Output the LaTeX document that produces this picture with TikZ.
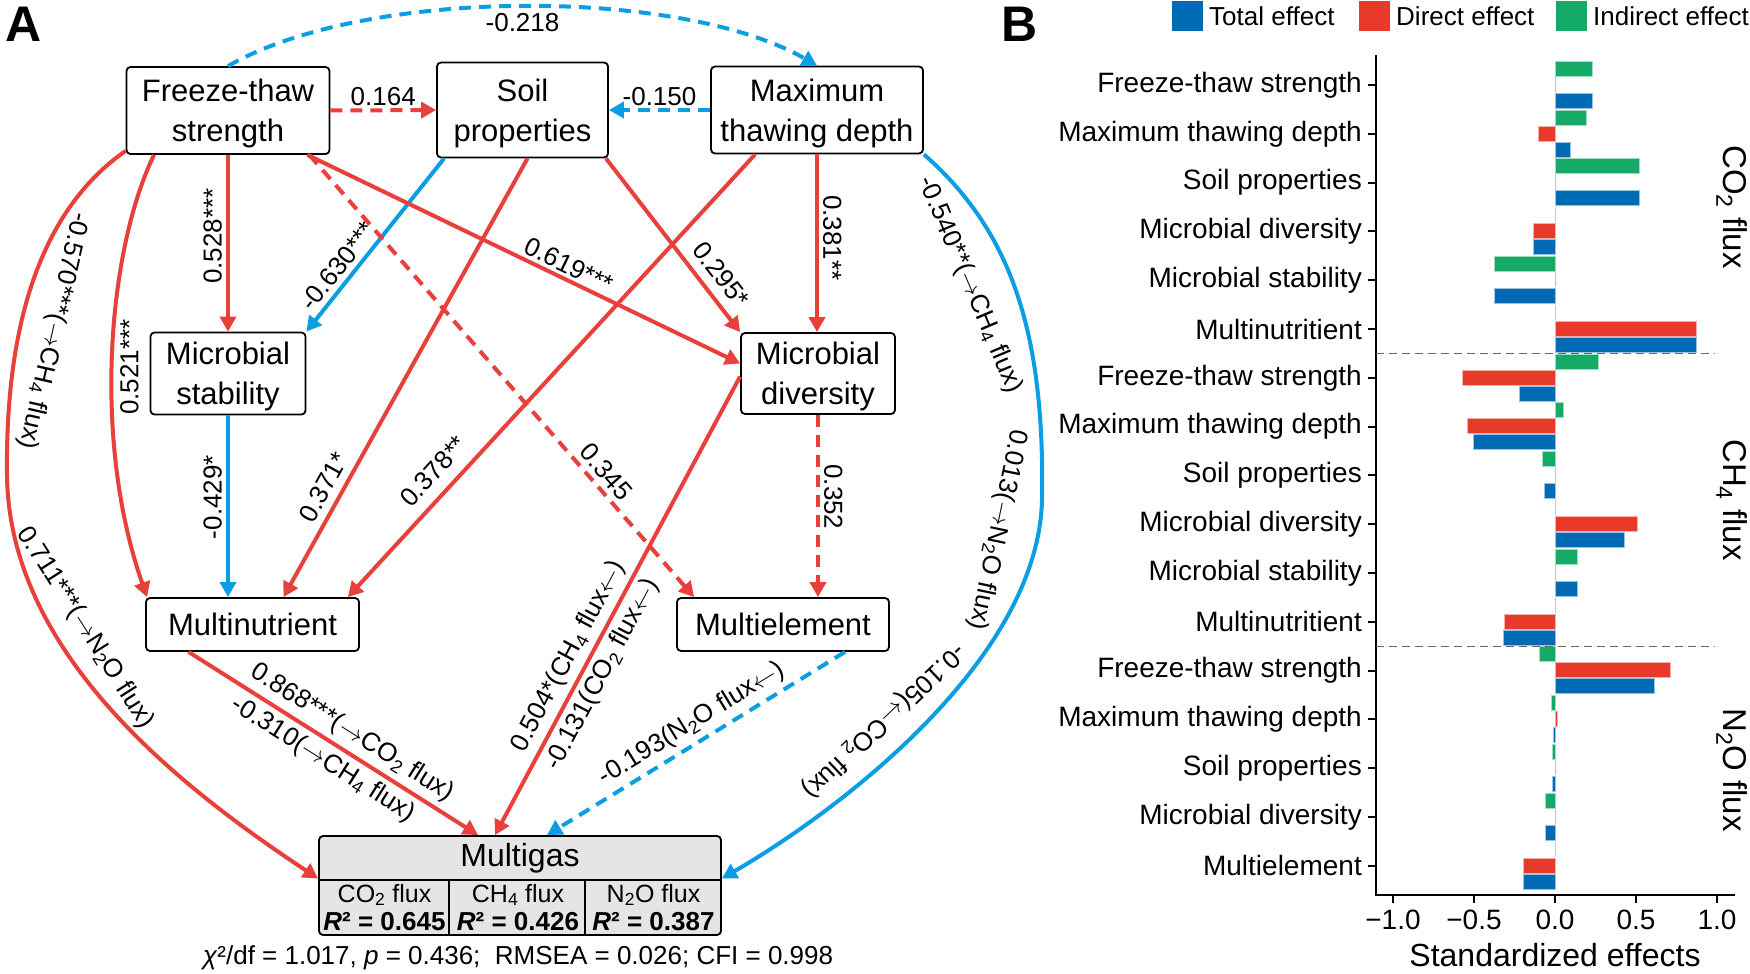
\documentclass[tikz,border=0pt]{standalone}
\usepackage{fontspec}
\setmainfont{Liberation Sans}
\usetikzlibrary{arrows.meta}

\definecolor{effred}{RGB}{232,64,58}
\definecolor{effblue}{RGB}{12,158,226}
\definecolor{totblue}{RGB}{0,106,180}
\definecolor{dirred}{RGB}{232,58,42}
\definecolor{indgreen}{RGB}{21,170,102}

\newcommand{\sbs}[1]{\textsubscript{#1}}
\newcommand{\toflux}{$\rightarrow$}
\newcommand{\fromflux}{$\leftarrow$}

\begin{document}
\begin{tikzpicture}[x=1pt, y=-1pt,
    var_style/.style={draw=black, line width=1.8pt, rounded corners=4pt, fill=white, align=center, inner sep=2pt, text depth=0pt, font=\fontsize{31}{40}\selectfont},
    edge_style/.style={line width=4pt, -{Triangle[length=15pt,width=16pt]}},
    pos_edge_style/.style={edge_style, draw=effred},
    neg_edge_style/.style={edge_style, draw=effblue},
    ns_edge_style/.style={dash pattern=on 12pt off 8pt},
    coef_style/.style={font=\fontsize{26}{28}\selectfont, inner sep=1pt},
    cat_style/.style={anchor=east, font=\fontsize{28}{30}\selectfont, inner sep=0pt},
    axis_style/.style={line width=2pt},
    bar_style/.style={line width=0.6pt}]
  \useasboundingbox (0,0) rectangle (1750,974);
  \fill[white] (0,0) rectangle (1750,974);

  % panel A: variables
  \node[font=\fontsize{50}{50}\selectfont\bfseries, inner sep=0pt] (panelA) at (24,24) {A};
  \node[var_style, minimum width=203pt, minimum height=87pt] (fts) at (228,110.5) {Freeze-thaw\\strength};
  \node[var_style, minimum width=171pt, minimum height=95pt] (soil) at (522.5,110) {Soil\\properties};
  \node[var_style, minimum width=212pt, minimum height=87pt] (mtd) at (817,110) {Maximum\\thawing depth};
  \node[var_style, minimum width=155pt, minimum height=82pt] (ms) at (228,373.5) {Microbial\\stability};
  \node[var_style, minimum width=154pt, minimum height=81pt] (md) at (818,373.5) {Microbial\\diversity};
  \node[var_style, minimum width=213pt, minimum height=53pt] (mn) at (252.5,624.5) {Multinutrient};
  \node[var_style, minimum width=212pt, minimum height=53pt] (me) at (783,624.5) {Multielement};
  \node[var_style, fill=black!10, minimum width=402pt, minimum height=99pt] (gas) at (520,885.5) {};
  \draw[line width=1.8pt] ([yshift=5.5pt]gas.west) -- ([yshift=5.5pt]gas.east);
  \draw[line width=1.8pt] ([xshift=131pt,yshift=5.5pt]gas.west) -- ([xshift=131pt]gas.south west);
  \draw[line width=1.8pt] ([xshift=267pt,yshift=5.5pt]gas.west) -- ([xshift=267pt]gas.south west);
  \node[font=\fontsize{32}{34}\selectfont] (gastitle) at (520,858) {Multigas};
  \node[font=\fontsize{25}{27}\selectfont] (co2) at (384.5,895) {CO\sbs{2} flux};
  \node[font=\fontsize{25}{27}\selectfont] (ch4) at (518,895) {CH\sbs{4} flux};
  \node[font=\fontsize{25}{27}\selectfont] (n2o) at (653.5,895) {N\sbs{2}O flux};
  \node[font=\fontsize{26}{28}\selectfont\bfseries] (r2co2) at (384.5,922) {\textit{R}² = 0.645};
  \node[font=\fontsize{26}{28}\selectfont\bfseries] (r2ch4) at (518,922) {\textit{R}² = 0.426};
  \node[font=\fontsize{26}{28}\selectfont\bfseries] (r2n2o) at (653.5,922) {\textit{R}² = 0.387};
  \node[font=\fontsize{26}{28}\selectfont] (fit) at (518,958) {\textit{χ}²/df = 1.017, \textit{p} = 0.436;\ \ RMSEA = 0.026; CFI = 0.998};

  % panel A: paths
  \draw[neg_edge_style, ns_edge_style] (fts.north) .. controls (365,-13) and (680,-13) .. (mtd.north)
    node[pos=0.5, below=4pt, coef_style] (l218) {-0.218};
  \draw[pos_edge_style, ns_edge_style] (fts.east) -- (soil.west)
    node[midway, above=1pt, coef_style] (l164) {0.164};
  \draw[neg_edge_style, ns_edge_style] (mtd.west) -- (soil.east)
    node[midway, above=1pt, coef_style] (l150) {-0.150};
  \draw[pos_edge_style] (fts.south) -- (fts.south |- ms.north)
    node[pos=0.46, rotate=90, above=3pt, coef_style] (l528) {0.528***};
  \draw[neg_edge_style] ([xshift=8pt]soil.south west) -- (ms.north east)
    node[pos=0.68, sloped, above=4pt, coef_style] (l630) {-0.630***};
  \draw[pos_edge_style] ([xshift=5pt]soil.south) -- ([xshift=31pt]mn.north)
    node[pos=0.77, sloped, above=6pt, coef_style] (l371) {0.371*};
  \draw[pos_edge_style] ([xshift=45pt]mtd.south west) -- ([xshift=-12pt]mn.north east)
    node[pos=0.75, sloped, above=10pt, coef_style] (l378) {0.378**};
  \draw[pos_edge_style] ([xshift=-23pt]fts.south east) -- ([yshift=10pt]md.west)
    node[pos=0.59, sloped, above=2pt, coef_style] (l619) {0.619***};
  \draw[pos_edge_style] ([xshift=-3pt]soil.south east) -- (md.north west)
    node[pos=0.74, sloped, above=8pt, coef_style] (l295) {0.295*};
  \draw[pos_edge_style] (mtd.south) -- (mtd.south |- md.north)
    node[pos=0.47, rotate=-90, above=3pt, coef_style] (l381) {0.381**};
  \draw[pos_edge_style, ns_edge_style] ([xshift=-21pt]fts.south east) -- ([xshift=18pt]me.north west)
    node[pos=0.74, sloped, above=4pt, coef_style] (l345) {0.345};
  \draw[pos_edge_style, ns_edge_style] (md.south) -- (md.south |- me.north)
    node[pos=0.45, rotate=-90, above=3pt, coef_style] (l352) {0.352};
  \draw[neg_edge_style] (ms.south) -- (ms.south |- mn.north)
    node[pos=0.45, rotate=90, above=3pt, coef_style] (l429) {-0.429*};
  \draw[pos_edge_style] ([xshift=-74pt]fts.south) .. controls (108,250) and (92,440) .. ([xshift=2pt]mn.north west)
    node[pos=0.53, rotate=90, below=5pt, coef_style] (l521) {0.521***};
  \draw[pos_edge_style] ([yshift=4pt]fts.south west) .. controls (48,205) and (5,310) .. (7,475)
    node[pos=0.65, sloped, allow upside down, above=18pt, coef_style] (l570) {-0.570***(\toflux CH\sbs{4} flux)}
    .. controls (9,650) and (172,782) .. ([yshift=7pt]gas.west)
    node[pos=0.35, sloped, above=14pt, coef_style] (l711) {0.711***(\toflux N\sbs{2}O flux)};
  \draw[neg_edge_style] (mtd.south east) .. controls (1010,230) and (1045,330) .. (1042,500)
    node[pos=0.43, sloped, allow upside down, below=26pt, coef_style] (l540) {-0.540**(\toflux CH\sbs{4} flux)}
    .. controls (1038,660) and (840,810) .. ([yshift=7pt]gas.east)
    node[pos=0.08, sloped, allow upside down, below=26pt, coef_style] (l013) {0.013(\toflux N\sbs{2}O flux)}
    node[pos=0.55, sloped, allow upside down, below=16pt, coef_style] (l105) {-0.105(\fromflux CO\sbs{2} flux)};
  \draw[pos_edge_style] ([xshift=-64pt]mn.south) -- ([xshift=-42pt]gas.north)
    node[pos=0.53, sloped, above=4pt, coef_style] (l868) {0.868***(\toflux CO\sbs{2} flux)}
    node[pos=0.50, sloped, below=4pt, coef_style] (l310) {-0.310(\toflux CH\sbs{4} flux)};
  \draw[pos_edge_style] ([yshift=-3pt]md.west) -- ([xshift=-25pt]gas.north)
    node[pos=0.63, sloped, above=4pt, coef_style] (l504) {0.504*(CH\sbs{4} flux\fromflux)}
    node[pos=0.63, sloped, below=4pt, coef_style] (l131) {-0.131(CO\sbs{2} flux\fromflux)};
  \draw[neg_edge_style, ns_edge_style] ([xshift=62pt]me.south) -- ([xshift=27pt]gas.north)
    node[pos=0.48, sloped, above=4pt, coef_style] (l193) {-0.193(N\sbs{2}O flux\fromflux)};

  % panel B: legend
  \node[font=\fontsize{50}{50}\selectfont\bfseries, inner sep=0pt] (panelB) at (1020,24) {B};
  \fill[totblue] (1172,1) rectangle (1203,31);
  \node[anchor=west, font=\fontsize{26}{28}\selectfont, inner sep=0pt] (legtot) at (1209,16) {Total effect};
  \fill[dirred] (1359,1) rectangle (1390,31);
  \node[anchor=west, font=\fontsize{26}{28}\selectfont, inner sep=0pt] (legdir) at (1396,16) {Direct effect};
  \fill[indgreen] (1556,1) rectangle (1587,31);
  \node[anchor=west, font=\fontsize{26}{28}\selectfont, inner sep=0pt] (legind) at (1593,16) {Indirect effect};

  % panel B: bars (indirect / direct / total)
  \foreach \g/\r/\b [count=\i from 0] in {0.232/0/0.232, 0.196/-0.106/0.094, 0.519/0/0.519,
      0/-0.132/-0.132, -0.375/0/-0.375, 0/0.871/0.871,
      0.267/-0.572/-0.22, 0.053/-0.543/-0.504, -0.079/0/-0.065,
      0/0.507/0.425, 0.138/0/0.138, 0/-0.311/-0.317,
      -0.097/0.713/0.613, -0.021/0.015/-0.009, -0.018/0/-0.018,
      -0.059/0/-0.059, 0/-0.196/-0.196} {
    \pgfmathsetmacro{\yy}{85+48.8*\i}
    \filldraw[bar_style, fill=indgreen, draw=indgreen!40] (1555,{\yy-24}) rectangle ({1555+162*\g},{\yy-9});
    \filldraw[bar_style, fill=dirred, draw=dirred!40] (1555,{\yy-8}) rectangle ({1555+162*\r},{\yy+7});
    \filldraw[bar_style, fill=totblue, draw=totblue!40] (1555,{\yy+8}) rectangle ({1555+162*\b},{\yy+23});
  }

  % panel B: axes
  \draw[axis_style] (1376,55) -- (1376,895) -- (1735,895);
  \foreach \lab [count=\i from 0] in {Freeze-thaw strength, Maximum thawing depth, Soil properties,
      Microbial diversity, Microbial stability, Multinutritient,
      Freeze-thaw strength, Maximum thawing depth, Soil properties,
      Microbial diversity, Microbial stability, Multinutritient,
      Freeze-thaw strength, Maximum thawing depth, Soil properties,
      Microbial diversity, Multielement} {
    \draw[axis_style] (1368,{85+48.8*\i}) -- (1376,{85+48.8*\i});
    \node[cat_style] (cat\i) at (1362,{85+48.8*\i}) {\lab};
  }
  \foreach \v/\t in {-1/−1.0, -0.5/−0.5, 0/0.0, 0.5/0.5, 1/1.0} {
    \draw[axis_style] ({1555+162*\v},895) -- ({1555+162*\v},903);
    \node[font=\fontsize{28}{30}\selectfont] (tick\v) at ({1555+162*\v},920) {\t};
  }
  \node[font=\fontsize{32}{34}\selectfont] (xtitle) at (1555,955) {Standardized effects};
  \draw[dash pattern=on 8pt off 5pt, black!60, line width=1.2pt] (1376,353.5) -- (1715,353.5);
  \draw[dash pattern=on 8pt off 5pt, black!60, line width=1.2pt] (1376,646.5) -- (1715,646.5);
  \node[rotate=-90, font=\fontsize{33}{35}\selectfont] (facetco2) at (1732,207) {CO\sbs{2} flux};
  \node[rotate=-90, font=\fontsize{33}{35}\selectfont] (facetch4) at (1732,500) {CH\sbs{4} flux};
  \node[rotate=-90, font=\fontsize{33}{35}\selectfont] (facetn2o) at (1732,770) {N\sbs{2}O flux};
\end{tikzpicture}
\end{document}
